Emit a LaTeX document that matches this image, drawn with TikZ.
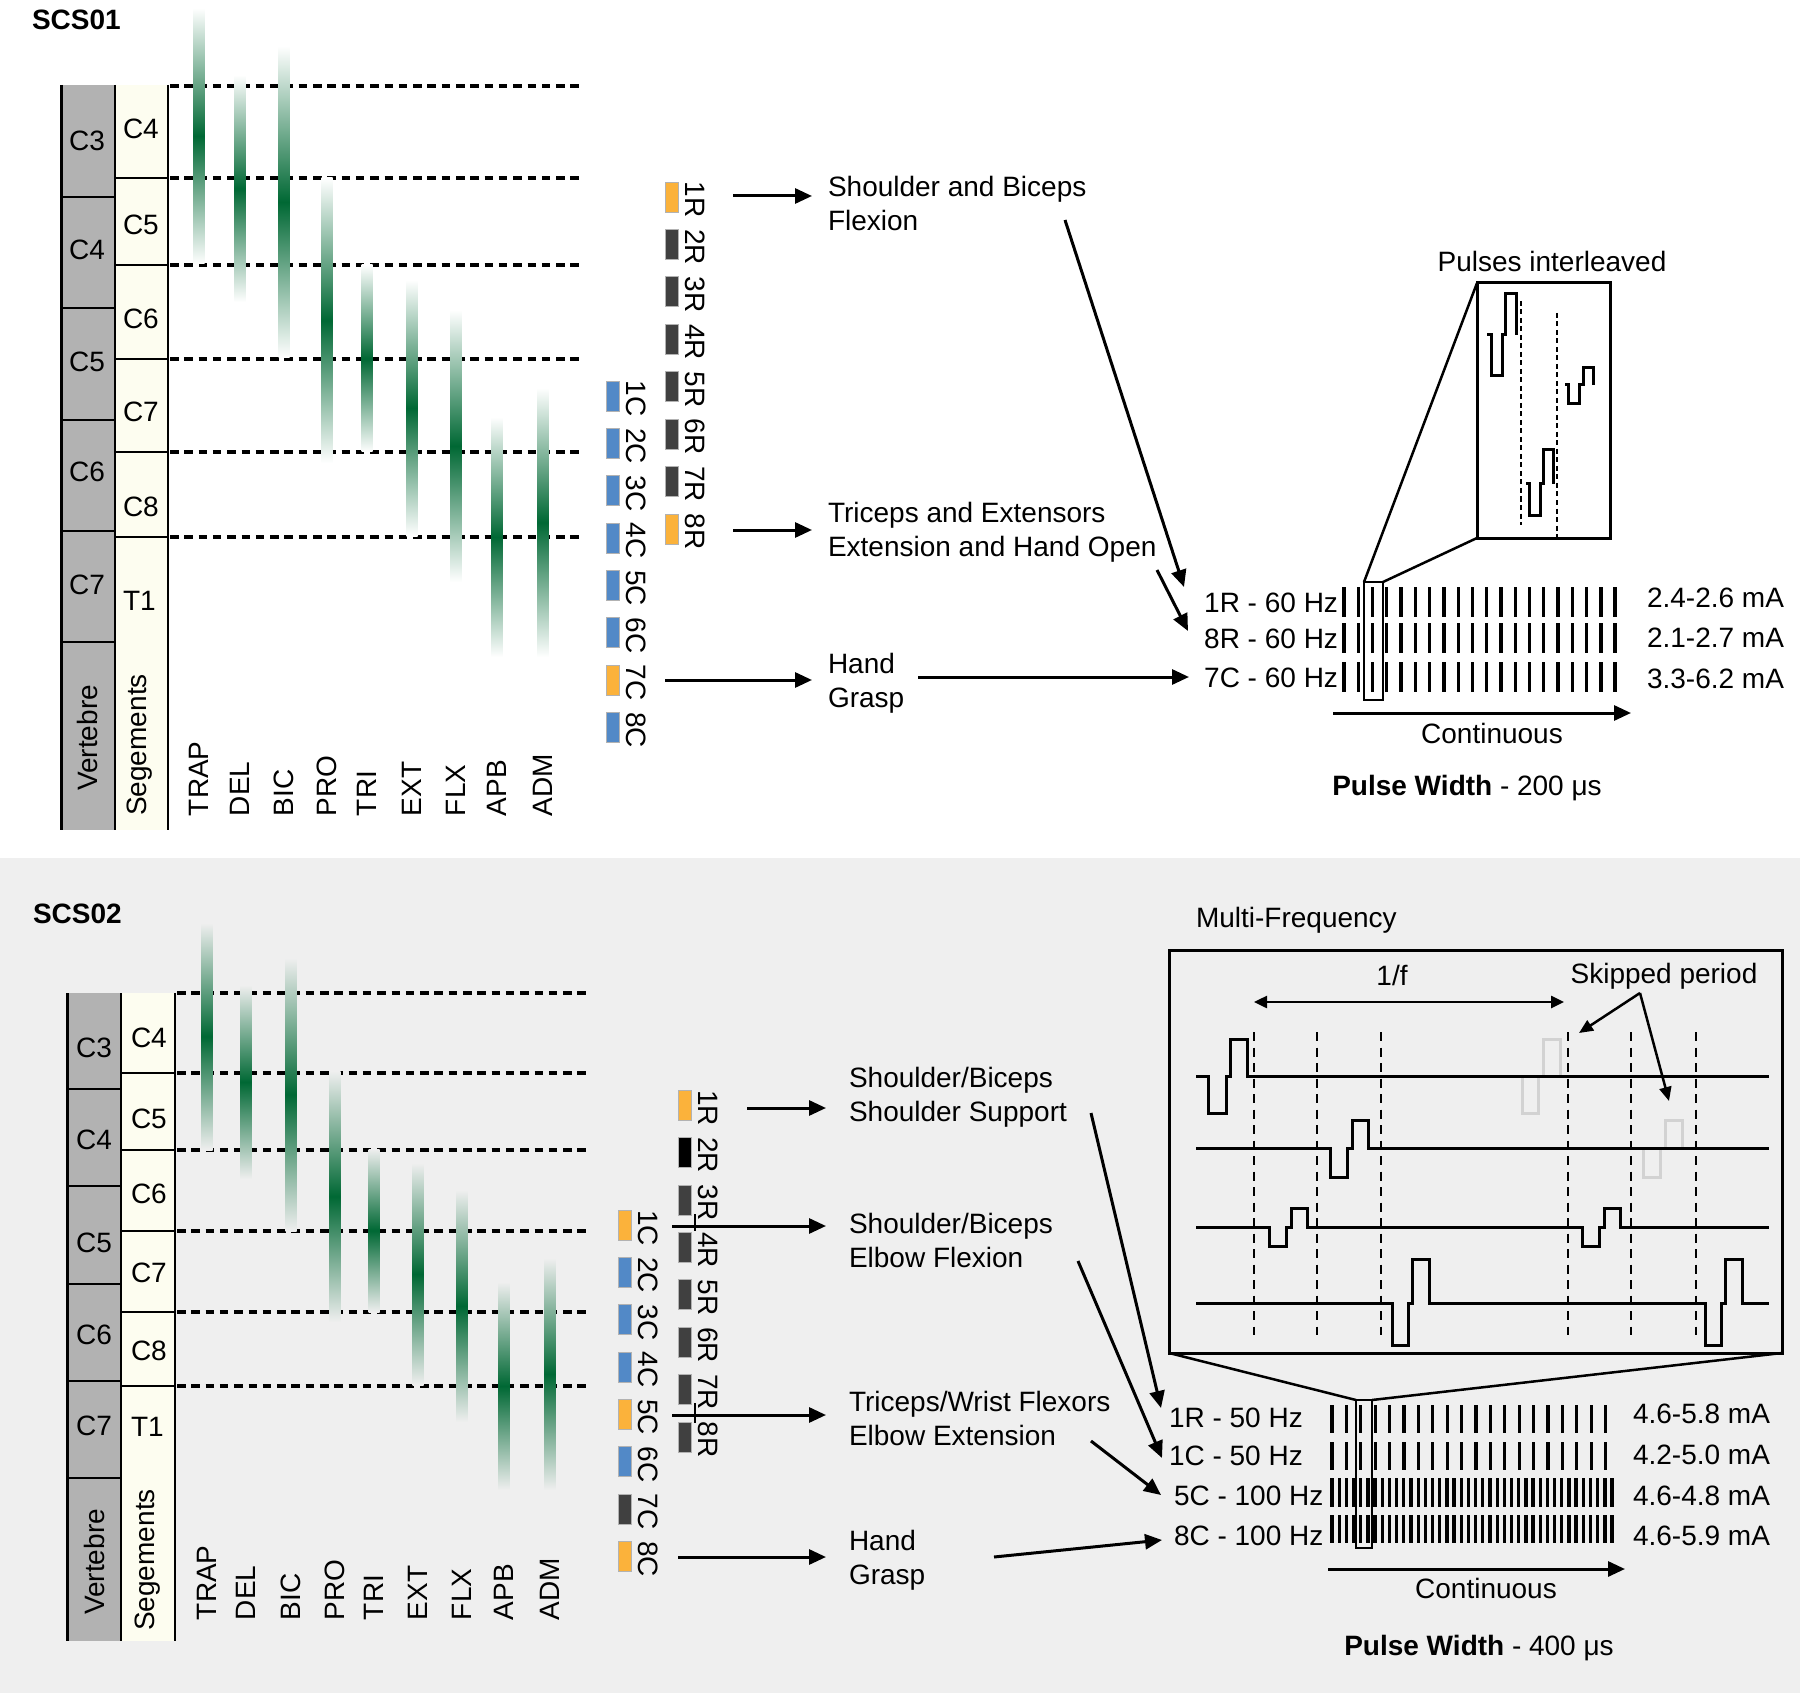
\documentclass[tikz,border=0pt]{standalone}
\usepackage{fontspec}
\setmainfont{Liberation Sans}
\usetikzlibrary{arrows.meta,calc}
\newcommand{\figfont}{\fontsize{28}{34.5}\selectfont}
\definecolor{mgreen}{RGB}{0,104,52}
\definecolor{panelgray}{RGB}{239,239,239}
\definecolor{vgray}{RGB}{178,178,178}
\definecolor{segyel}{RGB}{253,253,240}
\definecolor{eorange}{RGB}{251,178,59}
\definecolor{edark}{RGB}{64,64,64}
\definecolor{eblue}{RGB}{82,137,199}
\definecolor{ghost}{RGB}{210,210,210}
\begin{document}
\begin{tikzpicture}[x=1pt,y=-1pt,
  lbl/.style={font=\figfont, inner sep=0pt, outer sep=0pt},
  ml/.style={lbl, align=left, anchor=north west},
  arr/.style={line width=3pt, -{Triangle[length=17pt,width=15pt]}},
  thinarr/.style={line width=2.5pt, -{Triangle[length=14pt,width=12pt]}},
  dline/.style={line width=3.5pt, dash pattern=on 8.5pt off 5.8pt},
  sepline/.style={line width=2pt},
  pbar/.style={line width=3.3pt},
  wave/.style={line width=3pt},
  elec/.style={minimum width=13pt, minimum height=30pt, inner sep=0pt, outer sep=0pt, anchor=north west, draw=black!30, line width=0.6pt},
  boxn/.style={draw, line width=3pt, inner sep=0pt, outer sep=0pt},
  zline/.style={line width=2.5pt},
]
\useasboundingbox (0,0) rectangle (1800,1693);
\fill[white] (0,0) rectangle (1800,858);
\fill[panelgray] (0,858) rectangle (1800,1693);

% ================= TOP PANEL (SCS01) =================
\node[lbl,font=\figfont\bfseries,anchor=base west] (scs1) at (32,30) {SCS01};

\fill[vgray] (61,85) rectangle (115,830);
\fill[segyel] (115,85) rectangle (168,830);
\foreach \y in {197,308,420,531,642} \draw[sepline] (61,\y) -- (115,\y);
\foreach \y in {178,265,359,452,537} \draw[sepline] (115,\y) -- (168,\y);
\draw[line width=3pt] (61,85) -- (61,830);
\draw[sepline] (115,85) -- (115,830);
\draw[sepline] (168,85) -- (168,830);
\foreach \y in {86,178,265,359,452,537} \draw[dline] (170,\y) -- (580,\y);

\foreach \t/\y [count=\k] in {C3/151,C4/260,C5/372,C6/482,C7/594}
  \node[lbl,anchor=base] (uv\k) at (87,\y) {\t};
\node[lbl,rotate=90] (uvert) at (87,738) {Vertebre};
\foreach \t/\y [count=\k] in {C4/139,C5/235,C6/329,C7/422,C8/516,T1/610}
  \node[lbl,anchor=base west] (us\k) at (123,\y) {\t};
\node[lbl,rotate=90] (useg) at (140,745) {Segements};

\foreach \x/\a/\b in {199/8/264,240/75/302,284/46/358,327/178/463,367/265/452,412/280/536,456/310/582,497/417/657,543/388/657}
  \shade[top color=white,bottom color=white,middle color=mgreen] ({\x-5.5},\a) rectangle ({\x+5.5},\b);
\foreach \x/\m [count=\k] in {199/TRAP,240/DEL,284/BIC,327/PRO,367/TRI,412/EXT,456/FLX,497/APB,543/ADM}
  \node[lbl,rotate=90,anchor=west] (um\k) at (\x,816) {\m};

% electrodes top
\foreach \i/\c in {1/eorange,2/edark,3/edark,4/edark,5/edark,6/edark,7/edark,8/eorange}{
  \pgfmathsetmacro{\yy}{182+47.4*(\i-1)}
  \node[elec,fill=\c] (uR\i) at (665,\yy) {};
  \node[lbl,rotate=-90,anchor=west] (uRl\i) at (695,\yy) {\i R};
}
\foreach \i/\c in {1/eblue,2/eblue,3/eblue,4/eblue,5/eblue,6/eblue,7/eorange,8/eblue}{
  \pgfmathsetmacro{\yy}{381+47.3*(\i-1)}
  \node[elec,fill=\c] (uC\i) at (606,\yy) {};
  \node[lbl,rotate=-90,anchor=west] (uCl\i) at (636,\yy) {\i C};
}

\node[ml] (t1) at (828,176) {Shoulder and Biceps\\Flexion};
\node[ml] (t2) at (828,502) {Triceps and Extensors\\Extension and Hand Open};
\node[ml] (t3) at (828,653) {Hand\\Grasp};
\coordinate (ua1) at (733,196);
\coordinate (ua2) at (733,530);
\coordinate (ua3) at (665,680);
\draw[arr] (ua1) -- ($(t1.west |- ua1)+(-16,0)$);
\draw[arr] (ua2) -- ($(t2.west |- ua2)+(-16,0)$);
\draw[arr] (ua3) -- ($(t3.west |- ua3)+(-16,0)$);

\node[lbl,anchor=base east] (f1) at (1338,612) {1R - 60 Hz};
\node[lbl,anchor=base east] (f2) at (1338,648) {8R - 60 Hz};
\node[lbl,anchor=base east] (f3) at (1338,687) {7C - 60 Hz};
\coordinate (ls1) at (1065,220); \coordinate (le1) at (1184,587);
\coordinate (ls2) at (1157,570); \coordinate (le2) at (1188,631);
\coordinate (ls3) at (918,677);  \coordinate (le3) at (1189,677);
\draw[arr] (ls1) -- (le1);
\draw[arr] (ls2) -- (le2);
\draw[arr] (ls3) -- (le3);

\foreach \ya/\yb in {587/617,623/653,662/692}
  \foreach \i in {0,...,19}
    \draw[pbar] ({1344+14.27*\i},\ya) -- ({1344+14.27*\i},\yb);

\node[lbl,anchor=base east] (m1) at (1784,607) {2.4-2.6 mA};
\node[lbl,anchor=base east] (m2) at (1784,647) {2.1-2.7 mA};
\node[lbl,anchor=base east] (m3) at (1784,688) {3.3-6.2 mA};

\node[draw,line width=2.5pt,inner sep=0pt,outer sep=0pt,minimum width=19pt,minimum height=118pt] (zs1) at (1373.5,641) {};
\node[boxn,minimum width=133pt,minimum height=255pt] (zb1) at (1543.5,410.5) {};
\draw[zline] (zs1.north west) -- (zb1.north west);
\draw[zline] (zs1.north east) -- (zb1.south west);
\node[lbl,anchor=base] (pil) at (1552,272) {Pulses interleaved};

\draw[wave] (1487,335) -- (1491,335) -- (1491,376) -- (1502,376) -- (1502,335) -- (1505,335) -- (1505,294) -- (1516,294) -- (1516,335);
\draw[wave] (1526,484) -- (1529,484) -- (1529,515) -- (1540,515) -- (1540,484) -- (1543,484) -- (1543,450) -- (1553,450) -- (1553,484);
\draw[wave] (1565,385) -- (1568,385) -- (1568,404) -- (1579,404) -- (1579,385) -- (1583,385) -- (1583,368) -- (1593,368) -- (1593,385);
\draw[line width=1.6pt, dash pattern=on 5pt off 3.5pt] (1521,301) -- (1521,525);
\draw[line width=1.6pt, dash pattern=on 5pt off 3.5pt] (1557,313) -- (1557,537);

\coordinate (cs1) at (1333,713); \coordinate (ce1) at (1631,713);
\draw[arr] (cs1) -- (ce1);
\node[lbl,anchor=base] (ct1) at (1492,743) {Continuous};
\node[lbl,anchor=base] (pw1) at (1467,795) {\textbf{Pulse Width} - 200 μs};

% ================= BOTTOM PANEL (SCS02) =================
\node[lbl,font=\figfont\bfseries,anchor=base west] (scs2) at (33,923) {SCS02};

\fill[vgray] (67,993) rectangle (121,1641);
\fill[segyel] (121,993) rectangle (175,1641);
\foreach \y in {1089,1186,1284,1381,1478} \draw[sepline] (67,\y) -- (121,\y);
\foreach \y in {1073,1150,1231,1312,1386} \draw[sepline] (121,\y) -- (175,\y);
\draw[line width=3pt] (67,993) -- (67,1641);
\draw[sepline] (121,993) -- (121,1641);
\draw[sepline] (175,993) -- (175,1641);
\foreach \y in {993,1073,1150,1231,1312,1386} \draw[dline] (177,\y) -- (588,\y);

\foreach \t/\y [count=\k] in {C3/1057,C4/1149,C5/1252,C6/1344,C7/1435}
  \node[lbl,anchor=base] (bv\k) at (94,\y) {\t};
\node[lbl,rotate=90] (bvert) at (94,1562) {Vertebre};
\foreach \t/\y [count=\k] in {C4/1047,C5/1128,C6/1203,C7/1282,C8/1360,T1/1436}
  \node[lbl,anchor=base west] (bs\k) at (131,\y) {\t};
\node[lbl,rotate=90] (bseg) at (148,1560) {Segements};

\foreach \x/\a/\b in {207/923/1150,246/985/1179,291/958/1231,335/1071/1322,374/1149/1312,418/1163/1385,462/1190/1422,504/1282/1490,550/1258/1490}
  \shade[top color=panelgray,bottom color=panelgray,middle color=mgreen] ({\x-5.5},\a) rectangle ({\x+5.5},\b);
\foreach \x/\m [count=\k] in {207/TRAP,246/DEL,291/BIC,335/PRO,374/TRI,418/EXT,462/FLX,504/APB,550/ADM}
  \node[lbl,rotate=90,anchor=west] (bm\k) at (\x,1620) {\m};

% electrodes bottom
\foreach \i/\c in {1/eorange,2/black,3/edark,4/edark,5/edark,6/edark,7/edark,8/edark}{
  \pgfmathsetmacro{\yy}{1090+47.4*(\i-1)}
  \node[elec,fill=\c] (bR\i) at (678,\yy) {};
  \node[lbl,rotate=-90,anchor=west] (bRl\i) at (708,\yy) {\i R};
}
\foreach \i/\c in {1/eorange,2/eblue,3/eblue,4/eblue,5/eorange,6/eblue,7/edark,8/eorange}{
  \pgfmathsetmacro{\yy}{1210+47.3*(\i-1)}
  \node[elec,fill=\c] (bC\i) at (618,\yy) {};
  \node[lbl,rotate=-90,anchor=west] (bCl\i) at (648,\yy) {\i C};
}
\draw[line width=2.5pt] (695,1214) -- (695,1231);
\draw[line width=2.5pt] (695,1403) -- (695,1423);

\node[ml] (b1) at (849,1067) {Shoulder/Biceps\\Shoulder Support};
\node[ml] (b2) at (849,1213) {Shoulder/Biceps\\Elbow Flexion};
\node[ml] (b3) at (849,1391) {Triceps/Wrist Flexors\\Elbow Extension};
\node[ml] (b4) at (849,1530) {Hand\\Grasp};
\coordinate (ba1) at (747,1108);
\coordinate (ba2) at (672,1226);
\coordinate (ba3) at (672,1415);
\coordinate (ba4) at (678,1557);
\draw[arr] (ba1) -- ($(b1.west |- ba1)+(-23,0)$);
\draw[arr] (ba2) -- ($(b2.west |- ba2)+(-23,0)$);
\draw[arr] (ba3) -- ($(b3.west |- ba3)+(-23,0)$);
\draw[arr] (ba4) -- ($(b4.west |- ba4)+(-23,0)$);

\node[lbl,anchor=base west] (g1) at (1169,1427) {1R - 50 Hz};
\node[lbl,anchor=base west] (g2) at (1169,1465) {1C - 50 Hz};
\node[lbl,anchor=base west] (g3) at (1174,1505) {5C - 100 Hz};
\node[lbl,anchor=base west] (g4) at (1174,1545) {8C - 100 Hz};
\coordinate (bls1) at (1091,1113); \coordinate (ble1) at (1161,1408);
\coordinate (bls2) at (1078,1261); \coordinate (ble2) at (1162,1458);
\coordinate (bls3) at (1091,1441); \coordinate (ble3) at (1161,1495);
\coordinate (bls4) at (994,1557);  \coordinate (ble4) at (1162,1540);
\draw[arr] (bls1) -- (ble1);
\draw[arr] (bls2) -- (ble2);
\draw[arr] (bls3) -- (ble3);
\draw[arr] (bls4) -- (ble4);

\foreach \ya/\yb in {1405/1433,1442/1470}
  \foreach \i in {0,...,19}
    \draw[pbar] ({1332+14.4*\i},\ya) -- ({1332+14.4*\i},\yb);
\foreach \ya/\yb in {1478/1507,1515/1543}
  \foreach \i in {0,...,39}
    \draw[pbar] ({1332+7.18*\i},\ya) -- ({1332+7.18*\i},\yb);

\node[lbl,anchor=base east] (n1) at (1770,1423) {4.6-5.8 mA};
\node[lbl,anchor=base east] (n2) at (1770,1464) {4.2-5.0 mA};
\node[lbl,anchor=base east] (n3) at (1770,1505) {4.6-4.8 mA};
\node[lbl,anchor=base east] (n4) at (1770,1545) {4.6-5.9 mA};

\node[draw,line width=2.5pt,inner sep=0pt,outer sep=0pt,minimum width=16pt,minimum height=148pt] (zs2) at (1364,1474) {};
\node[boxn,minimum width=613pt,minimum height=403pt] (zb2) at (1475.5,1151.5) {};
\draw[zline] (zs2.north west) -- (zb2.south west);
\draw[zline] (zs2.north east) -- (zb2.south east);
\node[lbl,anchor=base west] (mf) at (1196,927) {Multi-Frequency};

% inside multi-frequency box
\foreach \x in {1254,1317,1381,1568,1631,1696}
  \draw[line width=2.6pt, dash pattern=on 9pt off 6.5pt] (\x,1032) -- (\x,1335);
% ghost pulses (skipped periods)
\draw[wave,ghost] (1522,1076) -- (1522,1113) -- (1538,1113) -- (1538,1076);
\draw[wave,ghost] (1543,1076) -- (1543,1039) -- (1560,1039) -- (1560,1076);
\draw[wave,ghost] (1643,1148) -- (1643,1177) -- (1660,1177) -- (1660,1148);
\draw[wave,ghost] (1665,1148) -- (1665,1120) -- (1682,1120) -- (1682,1148);
% channel traces
\draw[wave] (1196,1076) -- (1208,1076) -- (1208,1113) -- (1226,1113) -- (1226,1076) -- (1230,1076) -- (1230,1039) -- (1247,1039) -- (1247,1076) -- (1769,1076);
\draw[wave] (1196,1148) -- (1330,1148) -- (1330,1177) -- (1347,1177) -- (1347,1148) -- (1352,1148) -- (1352,1120) -- (1368,1120) -- (1368,1148) -- (1769,1148);
\draw[wave] (1196,1227) -- (1269,1227) -- (1269,1246) -- (1286,1246) -- (1286,1227) -- (1291,1227) -- (1291,1208) -- (1307,1208) -- (1307,1227)
  -- (1582,1227) -- (1582,1246) -- (1599,1246) -- (1599,1227) -- (1604,1227) -- (1604,1208) -- (1620,1208) -- (1620,1227) -- (1769,1227);
\draw[wave] (1196,1303) -- (1392,1303) -- (1392,1345) -- (1408,1345) -- (1408,1303) -- (1412,1303) -- (1412,1259) -- (1429,1259) -- (1429,1303)
  -- (1705,1303) -- (1705,1345) -- (1721,1345) -- (1721,1303) -- (1725,1303) -- (1725,1259) -- (1742,1259) -- (1742,1303) -- (1769,1303);

\node[lbl,anchor=base] (onef) at (1392,985) {1/f};
\coordinate (fa) at (1254,1002); \coordinate (fb) at (1564,1002);
\draw[line width=2.5pt, {Triangle[length=13pt,width=12pt]}-{Triangle[length=13pt,width=12pt]}] (fa) -- (fb);
\node[lbl,anchor=base] (skip) at (1664,983) {Skipped period};
\coordinate (sk0) at (1640,993);
\coordinate (sk1) at (1579,1033);
\coordinate (sk2) at (1669,1101);
\draw[thinarr] (sk0) -- (sk1);
\draw[thinarr] (sk0) -- (sk2);

\coordinate (cs2) at (1328,1569); \coordinate (ce2) at (1625,1569);
\draw[arr] (cs2) -- (ce2);
\node[lbl,anchor=base] (ct2) at (1486,1598) {Continuous};
\node[lbl,anchor=base] (pw2) at (1479,1655) {\textbf{Pulse Width} - 400 μs};
\end{tikzpicture}
\end{document}
